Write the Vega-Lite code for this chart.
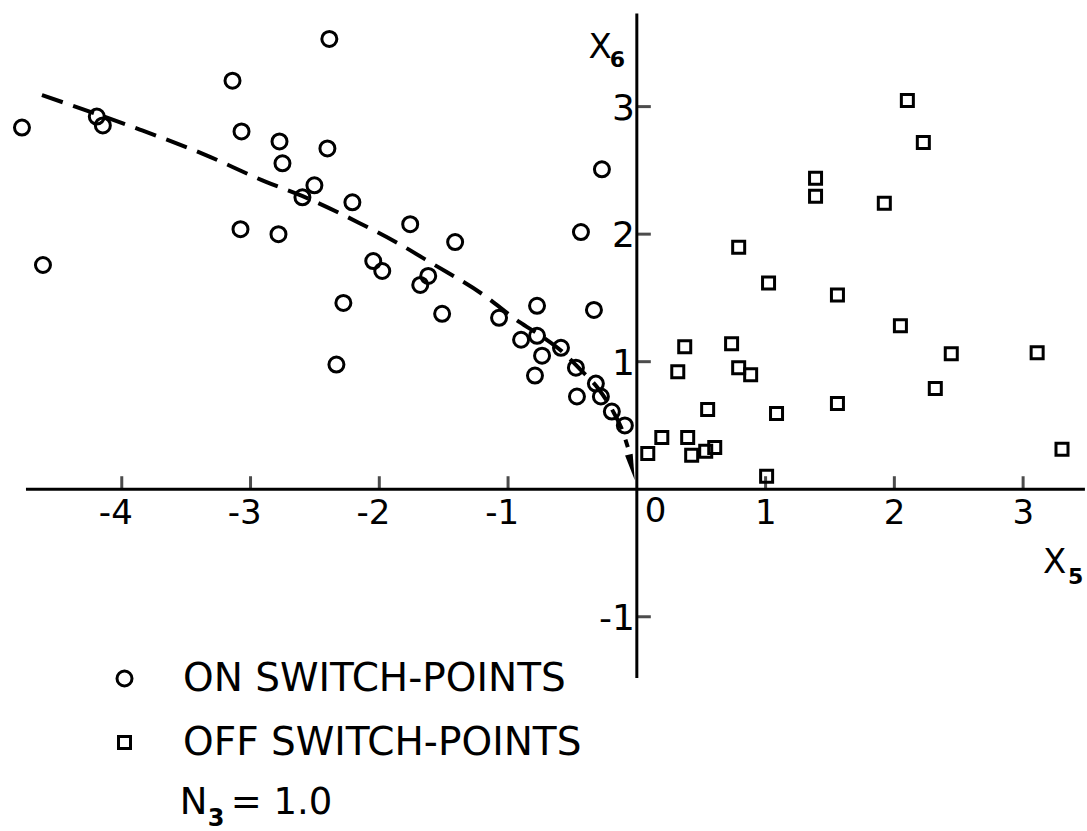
{
  "$schema": "https://vega.github.io/schema/vega-lite/v6.json",
  "width": 1087,
  "height": 831,
  "autosize": {"type": "fit", "contains": "padding"},
  "padding": 0,
  "background": "white",
  "config": {
    "view": {"stroke": null},
    "font": "DejaVu Sans",
    "text": {"font": "DejaVu Sans", "color": "black"},
    "legend": {
      "orient": "none",
      "legendX": 105,
      "legendY": 659,
      "padding": 0,
      "labelFont": "DejaVu Sans",
      "labelFontSize": 39,
      "labelColor": "black",
      "labelLimit": 1000,
      "labelOffset": 39,
      "rowPadding": 24,
      "symbolStrokeColor": "black",
      "symbolStrokeWidth": 3,
      "symbolFillColor": "transparent"
    }
  },
  "datasets": {
    "pts": [
      {"x": -4.775, "y": 2.836, "type": "ON SWITCH-POINTS"},
      {"x": -4.612, "y": 1.758, "type": "ON SWITCH-POINTS"},
      {"x": -4.194, "y": 2.922, "type": "ON SWITCH-POINTS"},
      {"x": -4.147, "y": 2.852, "type": "ON SWITCH-POINTS"},
      {"x": -3.140, "y": 3.203, "type": "ON SWITCH-POINTS"},
      {"x": -2.388, "y": 3.531, "type": "ON SWITCH-POINTS"},
      {"x": -3.070, "y": 2.805, "type": "ON SWITCH-POINTS"},
      {"x": -2.775, "y": 2.727, "type": "ON SWITCH-POINTS"},
      {"x": -2.752, "y": 2.555, "type": "ON SWITCH-POINTS"},
      {"x": -2.403, "y": 2.672, "type": "ON SWITCH-POINTS"},
      {"x": -2.504, "y": 2.383, "type": "ON SWITCH-POINTS"},
      {"x": -2.597, "y": 2.289, "type": "ON SWITCH-POINTS"},
      {"x": -2.209, "y": 2.250, "type": "ON SWITCH-POINTS"},
      {"x": -3.078, "y": 2.039, "type": "ON SWITCH-POINTS"},
      {"x": -2.783, "y": 2.000, "type": "ON SWITCH-POINTS"},
      {"x": -1.760, "y": 2.078, "type": "ON SWITCH-POINTS"},
      {"x": -1.411, "y": 1.938, "type": "ON SWITCH-POINTS"},
      {"x": -0.434, "y": 2.016, "type": "ON SWITCH-POINTS"},
      {"x": -2.047, "y": 1.789, "type": "ON SWITCH-POINTS"},
      {"x": -1.977, "y": 1.711, "type": "ON SWITCH-POINTS"},
      {"x": -1.620, "y": 1.672, "type": "ON SWITCH-POINTS"},
      {"x": -1.682, "y": 1.602, "type": "ON SWITCH-POINTS"},
      {"x": -2.279, "y": 1.461, "type": "ON SWITCH-POINTS"},
      {"x": -1.512, "y": 1.375, "type": "ON SWITCH-POINTS"},
      {"x": -1.070, "y": 1.344, "type": "ON SWITCH-POINTS"},
      {"x": -0.775, "y": 1.438, "type": "ON SWITCH-POINTS"},
      {"x": -0.333, "y": 1.406, "type": "ON SWITCH-POINTS"},
      {"x": -2.333, "y": 0.977, "type": "ON SWITCH-POINTS"},
      {"x": -0.899, "y": 1.172, "type": "ON SWITCH-POINTS"},
      {"x": -0.775, "y": 1.203, "type": "ON SWITCH-POINTS"},
      {"x": -0.736, "y": 1.047, "type": "ON SWITCH-POINTS"},
      {"x": -0.589, "y": 1.109, "type": "ON SWITCH-POINTS"},
      {"x": -0.791, "y": 0.891, "type": "ON SWITCH-POINTS"},
      {"x": -0.473, "y": 0.953, "type": "ON SWITCH-POINTS"},
      {"x": -0.465, "y": 0.727, "type": "ON SWITCH-POINTS"},
      {"x": -0.318, "y": 0.828, "type": "ON SWITCH-POINTS"},
      {"x": -0.279, "y": 0.727, "type": "ON SWITCH-POINTS"},
      {"x": -0.194, "y": 0.609, "type": "ON SWITCH-POINTS"},
      {"x": -0.093, "y": 0.500, "type": "ON SWITCH-POINTS"},
      {"x": -0.271, "y": 2.508, "type": "ON SWITCH-POINTS"},
      {"x": 2.101, "y": 3.047, "type": "OFF SWITCH-POINTS"},
      {"x": 2.225, "y": 2.719, "type": "OFF SWITCH-POINTS"},
      {"x": 1.388, "y": 2.438, "type": "OFF SWITCH-POINTS"},
      {"x": 1.388, "y": 2.297, "type": "OFF SWITCH-POINTS"},
      {"x": 1.922, "y": 2.242, "type": "OFF SWITCH-POINTS"},
      {"x": 0.791, "y": 1.898, "type": "OFF SWITCH-POINTS"},
      {"x": 1.023, "y": 1.617, "type": "OFF SWITCH-POINTS"},
      {"x": 1.558, "y": 1.523, "type": "OFF SWITCH-POINTS"},
      {"x": 2.047, "y": 1.281, "type": "OFF SWITCH-POINTS"},
      {"x": 0.372, "y": 1.117, "type": "OFF SWITCH-POINTS"},
      {"x": 0.736, "y": 1.141, "type": "OFF SWITCH-POINTS"},
      {"x": 2.442, "y": 1.063, "type": "OFF SWITCH-POINTS"},
      {"x": 3.109, "y": 1.070, "type": "OFF SWITCH-POINTS"},
      {"x": 0.318, "y": 0.922, "type": "OFF SWITCH-POINTS"},
      {"x": 0.791, "y": 0.953, "type": "OFF SWITCH-POINTS"},
      {"x": 0.884, "y": 0.898, "type": "OFF SWITCH-POINTS"},
      {"x": 2.318, "y": 0.789, "type": "OFF SWITCH-POINTS"},
      {"x": 1.558, "y": 0.672, "type": "OFF SWITCH-POINTS"},
      {"x": 0.550, "y": 0.625, "type": "OFF SWITCH-POINTS"},
      {"x": 1.085, "y": 0.594, "type": "OFF SWITCH-POINTS"},
      {"x": 0.194, "y": 0.406, "type": "OFF SWITCH-POINTS"},
      {"x": 0.395, "y": 0.406, "type": "OFF SWITCH-POINTS"},
      {"x": 0.085, "y": 0.281, "type": "OFF SWITCH-POINTS"},
      {"x": 0.426, "y": 0.266, "type": "OFF SWITCH-POINTS"},
      {"x": 0.535, "y": 0.297, "type": "OFF SWITCH-POINTS"},
      {"x": 0.605, "y": 0.328, "type": "OFF SWITCH-POINTS"},
      {"x": 3.302, "y": 0.313, "type": "OFF SWITCH-POINTS"},
      {"x": 1.008, "y": 0.102, "type": "OFF SWITCH-POINTS"}
    ],
    "curve": [
      {"x": -4.62, "y": 3.09}, {"x": -4.19, "y": 2.94}, {"x": -3.86, "y": 2.82},
      {"x": -3.37, "y": 2.63}, {"x": -2.88, "y": 2.41}, {"x": -2.60, "y": 2.30},
      {"x": -2.16, "y": 2.09}, {"x": -1.84, "y": 1.92}, {"x": -1.59, "y": 1.77},
      {"x": -1.20, "y": 1.53}, {"x": -0.91, "y": 1.31}, {"x": -0.74, "y": 1.20},
      {"x": -0.58, "y": 1.08}, {"x": -0.44, "y": 0.94}, {"x": -0.30, "y": 0.79},
      {"x": -0.19, "y": 0.62}, {"x": -0.12, "y": 0.48}, {"x": -0.07, "y": 0.33}
    ],
    "xticks": [
      {"x": -4, "label": "-4"}, {"x": -3, "label": "-3"}, {"x": -2, "label": "-2"},
      {"x": -1, "label": "-1"}, {"x": 1, "label": "1"}, {"x": 2, "label": "2"}, {"x": 3, "label": "3"}
    ],
    "yticks": [
      {"y": -1, "label": "-1"}, {"y": 1, "label": "1"}, {"y": 2, "label": "2"}, {"y": 3, "label": "3"}
    ],
    "one": [{}]
  },
  "layer": [
    {
      "data": {"name": "one"},
      "mark": {"type": "rule", "color": "black", "strokeWidth": 3},
      "encoding": {
        "x": {"datum": -4.744, "type": "quantitative", "scale": {"domain": [-4.9457, 3.4806], "nice": false, "zero": false}, "axis": null},
        "x2": {"datum": 3.48},
        "y": {"datum": 0, "type": "quantitative", "scale": {"domain": [-2.6563, 3.8359], "nice": false, "zero": false}, "axis": null}
      }
    },
    {
      "data": {"name": "one"},
      "mark": {"type": "rule", "color": "black", "strokeWidth": 3},
      "encoding": {
        "x": {"datum": 0, "type": "quantitative", "scale": {"domain": [-4.9457, 3.4806], "nice": false, "zero": false}, "axis": null},
        "y": {"datum": -1.48, "type": "quantitative", "scale": {"domain": [-2.6563, 3.8359], "nice": false, "zero": false}, "axis": null},
        "y2": {"datum": 3.73}
      }
    },
    {
      "data": {"name": "xticks"},
      "mark": {"type": "tick", "orient": "vertical", "color": "black", "thickness": 3, "size": 13, "yOffset": -6.5},
      "encoding": {
        "x": {"field": "x", "type": "quantitative", "scale": {"domain": [-4.9457, 3.4806], "nice": false, "zero": false}, "axis": null},
        "y": {"datum": 0, "type": "quantitative", "scale": {"domain": [-2.6563, 3.8359], "nice": false, "zero": false}, "axis": null}
      }
    },
    {
      "data": {"name": "yticks"},
      "mark": {"type": "tick", "orient": "horizontal", "color": "black", "thickness": 3, "size": 14, "xOffset": 7},
      "encoding": {
        "x": {"datum": 0, "type": "quantitative", "scale": {"domain": [-4.9457, 3.4806], "nice": false, "zero": false}, "axis": null},
        "y": {"field": "y", "type": "quantitative", "scale": {"domain": [-2.6563, 3.8359], "nice": false, "zero": false}, "axis": null}
      }
    },
    {
      "data": {"name": "xticks"},
      "mark": {"type": "text", "align": "right", "baseline": "alphabetic", "dx": 11, "dy": 35, "fontSize": 34, "color": "black"},
      "encoding": {
        "x": {"field": "x", "type": "quantitative", "scale": {"domain": [-4.9457, 3.4806], "nice": false, "zero": false}, "axis": null},
        "y": {"datum": 0, "type": "quantitative", "scale": {"domain": [-2.6563, 3.8359], "nice": false, "zero": false}, "axis": null},
        "text": {"field": "label"}
      }
    },
    {
      "data": {"name": "one"},
      "mark": {"type": "text", "text": "0", "align": "left", "baseline": "alphabetic", "dx": 8, "dy": 33, "fontSize": 34, "color": "black"},
      "encoding": {
        "x": {"datum": 0, "type": "quantitative", "scale": {"domain": [-4.9457, 3.4806], "nice": false, "zero": false}, "axis": null},
        "y": {"datum": 0, "type": "quantitative", "scale": {"domain": [-2.6563, 3.8359], "nice": false, "zero": false}, "axis": null}
      }
    },
    {
      "data": {"name": "yticks"},
      "mark": {"type": "text", "align": "right", "baseline": "alphabetic", "dx": -2, "dy": 13, "fontSize": 36, "color": "black"},
      "encoding": {
        "x": {"datum": 0, "type": "quantitative", "scale": {"domain": [-4.9457, 3.4806], "nice": false, "zero": false}, "axis": null},
        "y": {"field": "y", "type": "quantitative", "scale": {"domain": [-2.6563, 3.8359], "nice": false, "zero": false}, "axis": null},
        "text": {"field": "label"}
      }
    },
    {
      "data": {"name": "curve"},
      "mark": {"type": "line", "color": "black", "strokeWidth": 4, "strokeDash": [22, 11], "interpolate": "monotone"},
      "encoding": {
        "x": {"field": "x", "type": "quantitative", "scale": {"domain": [-4.9457, 3.4806], "nice": false, "zero": false}, "axis": null},
        "y": {"field": "y", "type": "quantitative", "scale": {"domain": [-2.6563, 3.8359], "nice": false, "zero": false}, "axis": null}
      }
    },
    {
      "data": {"name": "one"},
      "mark": {"type": "point", "shape": "M -0.3 -1 L 0.3 -1 L 0 1 Z", "filled": true, "color": "black", "size": 676, "angle": 347, "opacity": 1},
      "encoding": {
        "x": {"datum": -0.039, "type": "quantitative", "scale": {"domain": [-4.9457, 3.4806], "nice": false, "zero": false}, "axis": null},
        "y": {"datum": 0.172, "type": "quantitative", "scale": {"domain": [-2.6563, 3.8359], "nice": false, "zero": false}, "axis": null}
      }
    },
    {
      "data": {"name": "pts"},
      "mark": {"type": "point", "filled": false, "color": "black", "strokeWidth": 3, "opacity": 1},
      "encoding": {
        "x": {"field": "x", "type": "quantitative", "scale": {"domain": [-4.9457, 3.4806], "nice": false, "zero": false}, "axis": null},
        "y": {"field": "y", "type": "quantitative", "scale": {"domain": [-2.6563, 3.8359], "nice": false, "zero": false}, "axis": null},
        "shape": {"field": "type", "type": "nominal", "scale": {"domain": ["ON SWITCH-POINTS", "OFF SWITCH-POINTS"], "range": ["circle", "square"]}, "legend": {"title": null}},
        "size": {"field": "type", "type": "nominal", "scale": {"domain": ["ON SWITCH-POINTS", "OFF SWITCH-POINTS"], "range": [225, 144]}, "legend": {"title": null}}
      }
    },
    {
      "data": {"name": "one"},
      "mark": {"type": "text", "text": "X", "align": "right", "baseline": "alphabetic", "dx": -25, "fontSize": 34, "color": "black"},
      "encoding": {
        "x": {"datum": 0, "type": "quantitative", "scale": {"domain": [-4.9457, 3.4806], "nice": false, "zero": false}, "axis": null},
        "y": {"datum": 3.383, "type": "quantitative", "scale": {"domain": [-2.6563, 3.8359], "nice": false, "zero": false}, "axis": null}
      }
    },
    {
      "data": {"name": "one"},
      "mark": {"type": "text", "text": "6", "align": "left", "baseline": "alphabetic", "dx": -27, "fontSize": 22, "fontWeight": "bold", "color": "black"},
      "encoding": {
        "x": {"datum": 0, "type": "quantitative", "scale": {"domain": [-4.9457, 3.4806], "nice": false, "zero": false}, "axis": null},
        "y": {"datum": 3.3125, "type": "quantitative", "scale": {"domain": [-2.6563, 3.8359], "nice": false, "zero": false}, "axis": null}
      }
    },
    {
      "data": {"name": "one"},
      "mark": {"type": "text", "text": "X", "align": "left", "baseline": "alphabetic", "fontSize": 34, "color": "black"},
      "encoding": {
        "x": {"datum": 3.155, "type": "quantitative", "scale": {"domain": [-4.9457, 3.4806], "nice": false, "zero": false}, "axis": null},
        "y": {"datum": -0.656, "type": "quantitative", "scale": {"domain": [-2.6563, 3.8359], "nice": false, "zero": false}, "axis": null}
      }
    },
    {
      "data": {"name": "one"},
      "mark": {"type": "text", "text": "5", "align": "left", "baseline": "alphabetic", "dx": 25, "fontSize": 22, "fontWeight": "bold", "color": "black"},
      "encoding": {
        "x": {"datum": 3.155, "type": "quantitative", "scale": {"domain": [-4.9457, 3.4806], "nice": false, "zero": false}, "axis": null},
        "y": {"datum": -0.742, "type": "quantitative", "scale": {"domain": [-2.6563, 3.8359], "nice": false, "zero": false}, "axis": null}
      }
    },
    {
      "data": {"name": "one"},
      "mark": {"type": "text", "text": "N", "align": "left", "baseline": "alphabetic", "fontSize": 37, "color": "black"},
      "encoding": {
        "x": {"datum": -3.55, "type": "quantitative", "scale": {"domain": [-4.9457, 3.4806], "nice": false, "zero": false}, "axis": null},
        "y": {"datum": -2.547, "type": "quantitative", "scale": {"domain": [-2.6563, 3.8359], "nice": false, "zero": false}, "axis": null}
      }
    },
    {
      "data": {"name": "one"},
      "mark": {"type": "text", "text": "3", "align": "left", "baseline": "alphabetic", "dx": 28, "fontSize": 24, "fontWeight": "bold", "color": "black"},
      "encoding": {
        "x": {"datum": -3.55, "type": "quantitative", "scale": {"domain": [-4.9457, 3.4806], "nice": false, "zero": false}, "axis": null},
        "y": {"datum": -2.64, "type": "quantitative", "scale": {"domain": [-2.6563, 3.8359], "nice": false, "zero": false}, "axis": null}
      }
    },
    {
      "data": {"name": "one"},
      "mark": {"type": "text", "text": "= 1.0", "align": "left", "baseline": "alphabetic", "dx": 51, "fontSize": 37, "color": "black"},
      "encoding": {
        "x": {"datum": -3.55, "type": "quantitative", "scale": {"domain": [-4.9457, 3.4806], "nice": false, "zero": false}, "axis": null},
        "y": {"datum": -2.547, "type": "quantitative", "scale": {"domain": [-2.6563, 3.8359], "nice": false, "zero": false}, "axis": null}
      }
    }
  ]
}
